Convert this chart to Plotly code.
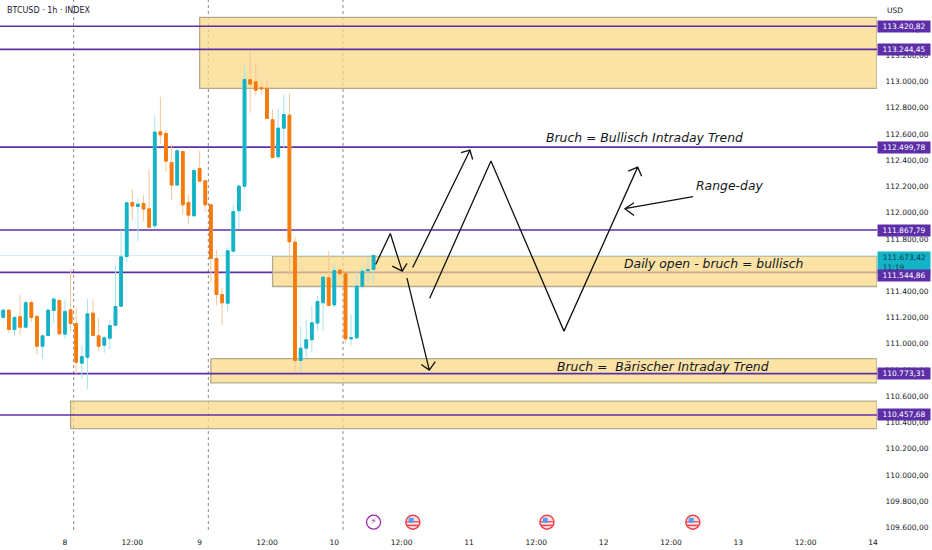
import pandas as pd
import plotly.graph_objects as go

# hourly candles, first one is 7 Sep 13:00
start = "2025-09-07 13:00"
opens = [111201, 111257, 111109, 111206, 111127, 111315, 111208, 110982, 111064, 111254, 111330, 111074, 111259, 111155, 110853, 110898, 111234,
         111061, 110990, 111043, 111142, 111287, 111666, 112077, 112047, 112070, 112029, 111900, 112616, 112603, 112382, 112210, 112466, 112077,
         111976, 112337, 112243, 112060, 111651, 111376, 111310, 111706, 112014, 112202, 113013, 112997, 112952, 112949, 112708, 112426, 112644,
         112743, 111775, 110873, 110967, 111031, 111158, 111313, 111503, 111297, 111562, 111534, 111038, 111046, 111440, 111557, 111567]
closes = [111257, 111109, 111201, 111127, 111313, 111201, 110982, 111061, 111257, 111341, 111076, 111247, 111155, 110860, 110903, 111229, 111064,
          110982, 111046, 111140, 111285, 111663, 112075, 112050, 112065, 112027, 111889, 112614, 112593, 112393, 112210, 112471, 112060, 111981,
          112321, 112240, 112060, 111651, 111376, 111313, 111709, 112009, 112202, 113015, 112980, 112934, 112944, 112718, 112420, 112644, 112748,
          111778, 110873, 110967, 111031, 111160, 111323, 111508, 111292, 111559, 111534, 111038, 111046, 111440, 111554, 111567, 111673]
highs = [111262, 111262, 111216, 111376, 111333, 111333, 111224, 111071, 111274, 111358, 111338, 111338, 111572, 111274, 110987, 111346, 111338,
         111198, 111058, 111186, 111592, 111867, 112075, 112177, 112113, 112131, 112329, 112741, 112883, 112634, 112520, 112494, 112466, 112138,
         112342, 112469, 112243, 112062, 111714, 111427, 111732, 112062, 112222, 113122, 113231, 113142, 112990, 113015, 112786, 112794, 112901,
         112913, 111816, 111130, 111186, 111287, 111369, 111516, 111706, 111605, 111567, 111541, 111224, 111554, 111592, 111668, 111681]
lows = [111196, 111084, 111064, 111066, 111119, 111165, 110919, 110888, 111064, 111147, 111074, 111038, 111097, 110771, 110733, 110652, 111058,
        110944, 110931, 110957, 111140, 111287, 111623, 111943, 111780, 111935, 111884, 111879, 112525, 112309, 112100, 112210, 111986, 111910,
        111973, 112240, 112011, 111465, 111292, 111140, 111249, 111706, 111877, 112177, 112761, 112893, 112901, 112715, 112415, 112410, 112494,
        111529, 110779, 110787, 110893, 110937, 111097, 111097, 111287, 111280, 111516, 111008, 110987, 111043, 111419, 111465, 111457]

level_values = [113420.82, 113244.45, 112499.78, 111867.79, 111544.86, 110773.31, 110457.68]
level_labels = ["113.420,82", "113.244,45", "112.499,78", "111.867,79", "111.544,86", "110.773,31", "110.457,68"]
last_price = 111673.42

# supply/demand boxes: start time, top, bottom
box_starts = ["2025-09-09 00:00", "2025-09-09 13:00", "2025-09-09 02:00", "2025-09-08 01:00"]
box_tops = [113488, 111668, 110888, 110563]
box_bottoms = [112947, 111437, 110703, 110353]

session_breaks = ["2025-09-08 01:33", "2025-09-09 01:33", "2025-09-10 01:33"]

y_ticks = [109600 + 200 * i for i in range(20)]
x_ticks = ["2025-09-08 00:00", "2025-09-08 12:00", "2025-09-09 00:00", "2025-09-09 12:00", "2025-09-10 00:00", "2025-09-10 12:00", "2025-09-11 00:00",
           "2025-09-11 12:00", "2025-09-12 00:00", "2025-09-12 12:00", "2025-09-13 00:00", "2025-09-13 12:00", "2025-09-14 00:00"]
x_labels = ["8", "12:00", "9", "12:00", "10", "12:00", "11", "12:00", "12", "12:00", "13", "12:00", "14"]

# hand drawn lines, hours after 8 Sep 00:00 / price
zig_h = [55.37, 57.98, 60.11, 58.33, 60.11, 60.95]
zig_p = [111605, 111841, 111554, 111592, 111554, 111613]
up_h = [61.97, 72.18, 70.57, 72.18, 72.66]
up_p = [111582, 112476, 112457, 112476, 112405]
down_h = [60.95, 64.93, 63.5, 64.93, 66.0]
down_p = [111501, 110800, 110843, 110800, 110864]
range_h = [65.0, 75.92, 88.93, 102.07, 100.39, 102.07, 102.78]
range_p = [111348, 112393, 111097, 112347, 112316, 112347, 112278]
pointer_h = [111.92, 99.8, 101.41, 99.8, 101.41]
pointer_p = [112123, 112030, 112075, 112030, 111979]

bolt_h = [55.0]
flag_h = [62.0, 85.9, 111.9]
icon_price = 109641

TEAL = "#14b2c6"
ORANGE = "#f57a0c"
TEAL_WICK = "#a6e2ea"
ORANGE_WICK = "#f9c596"
PURPLE = "#5c2fa8"
FONT = "DejaVu Sans"

W, H = 932, 550
PLOT_W, PLOT_H = 877, 530


def hours(values):
    return pd.Timestamp("2025-09-08") + pd.to_timedelta(values, unit="h")


times = pd.date_range(start, periods=len(opens), freq="h")
x_end = hours([144.72])[0]
x_start = hours([-11.58])[0]

fig = go.Figure()
# wicks
fig.add_trace(go.Candlestick(
    x=times, open=opens, high=highs, low=lows, close=closes, whiskerwidth=0,
    increasing=dict(line=dict(color=TEAL_WICK, width=1), fillcolor=TEAL_WICK),
    decreasing=dict(line=dict(color=ORANGE_WICK, width=1), fillcolor=ORANGE_WICK),
    showlegend=False))
# bodies on top
body_hi = [max(o, c) for o, c in zip(opens, closes)]
body_lo = [min(o, c) for o, c in zip(opens, closes)]
fig.add_trace(go.Candlestick(
    x=times, open=opens, high=body_hi, low=body_lo, close=closes, whiskerwidth=0,
    increasing=dict(line=dict(color=TEAL, width=1), fillcolor=TEAL),
    decreasing=dict(line=dict(color=ORANGE, width=1), fillcolor=ORANGE),
    showlegend=False))

for h, p in [(zig_h, zig_p), (up_h, up_p), (down_h, down_p), (range_h, range_p), (pointer_h, pointer_p)]:
    fig.add_trace(go.Scatter(x=hours(h), y=p, mode="lines", showlegend=False,
                             line=dict(color="#111111", width=1.3)))

# calendar events, flags are a ring, two stripes and a blue corner
n_flags = len(flag_h)
fig.add_trace(go.Scatter(x=hours(flag_h), y=[icon_price] * n_flags, mode="markers", showlegend=False,
                         marker=dict(symbol="circle", size=14, color="#fbe3e4", line=dict(color="#f0434f", width=1.5))))
fig.add_trace(go.Scatter(x=hours(flag_h), y=[icon_price - 25] * n_flags, mode="markers", showlegend=False,
                         marker=dict(symbol="line-ew", size=9, line=dict(color="#f0434f", width=1.5))))
fig.add_trace(go.Scatter(x=hours(flag_h), y=[icon_price + 3] * n_flags, mode="markers", showlegend=False,
                         marker=dict(symbol="line-ew", size=10, line=dict(color="#f0434f", width=1.2))))
fig.add_trace(go.Scatter(x=hours([h - 0.3 for h in flag_h]), y=[icon_price + 14] * n_flags, mode="markers", showlegend=False,
                         marker=dict(symbol="square", size=5, color="#5b9cf0")))
fig.add_trace(go.Scatter(x=hours(bolt_h), y=[icon_price], mode="markers+text", text=["⚡"], textposition="middle center",
                         textfont=dict(size=9, color="#9c27b0"), showlegend=False,
                         marker=dict(symbol="circle", size=14, color="white", line=dict(color="#9c27b0", width=1.3))))

shapes = []
# this level sits under the daily open box, the box tints it
shapes.append(dict(type="line", x0=x_start, x1=x_end, y0=level_values[4], y1=level_values[4], layer="below",
                   line=dict(color=PURPLE, width=1.6)))
for s, t, b in zip(box_starts, box_tops, box_bottoms):
    shapes.append(dict(type="rect", x0=s, x1=x_end, y0=b, y1=t, layer="below",
                       fillcolor="rgba(250,215,130,0.72)", line=dict(color="#b5aa8c", width=1.3)))
for i, v in enumerate(level_values):
    if i != 4:
        shapes.append(dict(type="line", x0=x_start, x1=x_end, y0=v, y1=v, layer="below",
                           line=dict(color=PURPLE, width=1.6)))
shapes.append(dict(type="line", x0=x_start, x1=x_end, y0=last_price, y1=last_price, layer="below",
                   line=dict(color="#cdeef2", width=1)))
for s in session_breaks:
    shapes.append(dict(type="line", x0=s, x1=s, yref="paper", y0=0, y1=1, layer="below",
                       line=dict(color="#8a8a8a", width=1, dash="dot")))

annotations = []


def page_text(text, px, py, size, anchor="left", color="#131722", italic=False):
    annotations.append(dict(text=text, xref="paper", yref="paper", x=px / PLOT_W, y=1 - py / PLOT_H,
                            xanchor=anchor, yanchor="middle", showarrow=False,
                            font=dict(family=FONT, size=size, color=color, style="italic" if italic else "normal")))


page_text("BTCUSD · 1h · INDEX", 5, 11, 8, color="#1c2030")
page_text("USD", 885, 11, 7.5)
page_text("Bruch = Bullisch Intraday Trend", 544, 137, 12.4, italic=True)
page_text("Range-day", 694, 186, 12.4, italic=True)
page_text("Daily open - bruch = bullisch", 622, 263, 12.4, italic=True)
page_text("Bruch =  Bärischer Intraday Trend", 555, 366, 12.4, italic=True)

annotations.append(dict(text="&nbsp;&nbsp;111.673,42<br>&nbsp;&nbsp;11:19", xref="paper", yref="y", x=1, y=last_price,
                        xanchor="left", yanchor="top", yshift=5, showarrow=False, bgcolor=TEAL, width=52, height=21,
                        borderpad=0, align="left", font=dict(family=FONT, size=7.5, color="#0c3d44")))
for v, lab in zip(level_values, level_labels):
    # the tag under the live price tag gets pushed down a bit
    shift = -3.5 if v == level_values[4] else 0
    annotations.append(dict(text=lab, xref="paper", yref="y", x=1, y=v, xanchor="left", yanchor="middle", yshift=shift,
                            showarrow=False, bgcolor=PURPLE, width=52, height=11, borderpad=0,
                            font=dict(family=FONT, size=7.5, color="white")))

fig.update_layout(
    width=W, height=H,
    margin=dict(l=0, r=W - PLOT_W, t=0, b=H - PLOT_H),
    paper_bgcolor="white", plot_bgcolor="white",
    separators=",.",
    font=dict(family=FONT, size=7.5, color="#131722"),
    shapes=shapes, annotations=annotations,
    xaxis=dict(range=[x_start, x_end], rangeslider=dict(visible=False), showgrid=False, zeroline=False,
               tickmode="array", tickvals=x_ticks, ticktext=x_labels, ticks="outside", ticklen=5, tickcolor="white", showline=False),
    yaxis=dict(range=[109581, 113621], side="right", showgrid=False, zeroline=False, tickmode="array", tickvals=y_ticks,
               tickformat=",.2f", ticks="outside", ticklen=6, tickcolor="white", showline=False),
)

fig.write_html("out.html", post_script="document.body.style.margin = '0';", config={"displayModeBar": False})
